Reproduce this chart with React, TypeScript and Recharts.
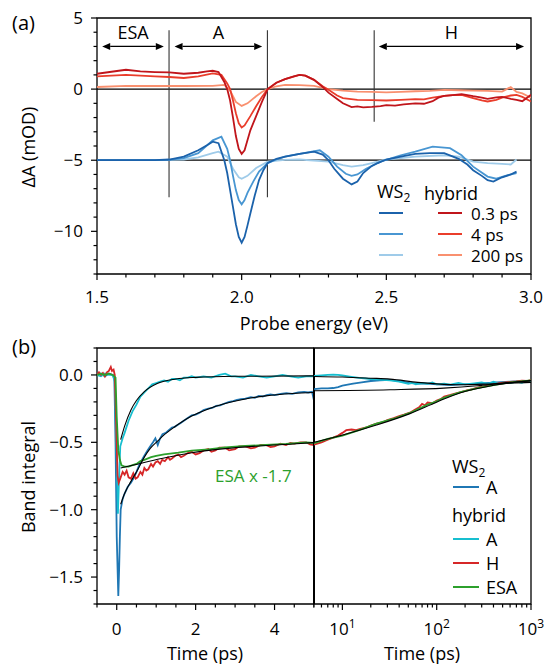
import React from "react";
import {
  LineChart,
  Line,
  XAxis,
  YAxis,
  ReferenceLine,
  ReferenceArea,
} from "recharts";

// ---------- panel (a): transient spectra, [probe energy (eV), dA (mOD)] ----------
const delays = ["0.3 ps", "4 ps", "200 ps"];

const hyb03 = [
  [1.5, 1.08], [1.55, 1.22], [1.6, 1.36], [1.65, 1.25], [1.7, 1.2], [1.75, 1.17], [1.8, 1.08],
  [1.85, 1.15], [1.88, 1.25], [1.9, 1.29], [1.92, 1.2], [1.94, 0.5], [1.95, 0.0], [1.96, -0.8],
  [1.97, -2.0], [1.98, -3.3], [1.99, -4.2], [2.0, -4.55], [2.01, -4.3], [2.02, -3.6], [2.03, -2.9],
  [2.05, -1.9], [2.07, -0.9], [2.09, 0.0], [2.12, 0.45], [2.15, 0.7], [2.18, 0.9], [2.2, 1.0],
  [2.22, 0.95], [2.25, 0.65], [2.28, 0.15], [2.3, -0.25], [2.33, -0.7], [2.35, -1.0], [2.38, -1.27],
  [2.4, -1.22], [2.42, -1.28], [2.45, -1.25], [2.48, -1.2], [2.5, -1.13], [2.53, -1.16], [2.56, -1.08],
  [2.6, -1.0], [2.63, -1.03], [2.66, -0.85], [2.68, -0.6], [2.7, -0.48], [2.73, -0.42], [2.76, -0.35],
  [2.78, -0.42], [2.8, -0.5], [2.83, -0.6], [2.85, -0.68], [2.88, -0.58], [2.9, -0.55], [2.93, -0.68],
  [2.95, -0.75], [2.97, -0.85], [3.0, -0.4],
];
const hyb4 = [
  [1.5, 0.9], [1.6, 1.0], [1.7, 0.9], [1.75, 0.85], [1.8, 0.78], [1.85, 0.9], [1.9, 1.1], [1.93, 1.0],
  [1.95, 0.4], [1.96, 0.0], [1.97, -0.8], [1.98, -1.7], [1.99, -2.4], [2.0, -2.7], [2.01, -2.55],
  [2.03, -1.9], [2.05, -1.2], [2.07, -0.55], [2.09, 0.0], [2.12, 0.45], [2.15, 0.7], [2.2, 1.0],
  [2.22, 0.95], [2.25, 0.65], [2.28, 0.2], [2.3, -0.05], [2.33, -0.45], [2.35, -0.63], [2.4, -0.75],
  [2.45, -0.78], [2.5, -0.8], [2.55, -0.76], [2.6, -0.7], [2.63, -0.72], [2.66, -0.6], [2.7, -0.48],
  [2.73, -0.42], [2.76, -0.4], [2.8, -0.63], [2.83, -0.8], [2.85, -0.87], [2.88, -0.75], [2.9, -0.6],
  [2.93, -0.45], [2.95, -0.4], [2.97, -0.55], [3.0, -0.87],
];
const hyb200 = [
  [1.5, 0.15], [1.6, 0.23], [1.7, 0.22], [1.8, 0.22], [1.9, 0.23], [1.94, 0.3], [1.96, -0.1],
  [1.97, -0.5], [1.98, -0.9], [2.0, -1.18], [2.02, -1.0], [2.05, -0.5], [2.07, -0.2], [2.09, 0.0],
  [2.12, 0.2], [2.15, 0.3], [2.2, 0.28], [2.25, 0.23], [2.3, 0.0], [2.35, -0.1], [2.4, -0.17],
  [2.45, -0.2], [2.5, -0.23], [2.55, -0.2], [2.6, -0.15], [2.65, -0.12], [2.7, -0.05], [2.75, -0.08],
  [2.8, -0.1], [2.85, -0.12], [2.9, -0.17], [2.93, 0.15], [2.95, -0.2], [2.97, -0.3], [3.0, -0.6],
];
const ws03 = [
  [1.5, -5.0], [1.6, -5.0], [1.7, -5.0], [1.75, -4.95], [1.8, -4.75], [1.85, -4.3], [1.88, -3.95],
  [1.9, -3.7], [1.92, -3.8], [1.94, -5.0], [1.95, -5.9], [1.96, -7.1], [1.97, -8.3], [1.98, -9.5],
  [1.99, -10.4], [2.0, -10.8], [2.01, -10.4], [2.02, -9.6], [2.03, -8.75], [2.045, -7.5],
  [2.06, -6.4], [2.075, -5.7], [2.09, -5.2], [2.12, -4.9], [2.15, -4.75], [2.2, -4.55],
  [2.25, -4.4], [2.28, -4.6], [2.3, -5.0], [2.32, -5.6], [2.35, -6.3], [2.38, -6.7], [2.4, -6.5],
  [2.42, -5.9], [2.45, -5.4], [2.47, -5.2], [2.5, -4.95], [2.55, -4.75], [2.6, -4.55], [2.65, -4.5],
  [2.7, -4.5], [2.75, -4.9], [2.78, -5.3], [2.8, -5.7], [2.83, -6.1], [2.85, -6.4], [2.87, -6.5],
  [2.9, -6.2], [2.93, -6.0], [2.95, -5.8],
];
const ws4 = [
  [1.5, -5.0], [1.6, -5.0], [1.7, -5.0], [1.75, -4.97], [1.8, -4.85], [1.85, -4.5], [1.9, -3.6],
  [1.93, -3.35], [1.95, -4.2], [1.96, -5.0], [1.97, -6.1], [1.98, -7.1], [1.99, -7.8], [2.0, -8.1],
  [2.01, -7.8], [2.02, -7.3], [2.04, -6.5], [2.06, -5.8], [2.09, -5.2], [2.12, -4.95],
  [2.15, -4.75], [2.2, -4.55], [2.27, -4.3], [2.3, -4.75], [2.33, -5.45], [2.36, -5.95],
  [2.38, -6.1], [2.4, -6.0], [2.43, -5.6], [2.48, -5.1], [2.55, -4.65], [2.6, -4.4], [2.66, -4.05],
  [2.72, -4.15], [2.76, -4.65], [2.8, -5.45], [2.85, -6.15], [2.88, -6.3], [2.92, -6.05],
  [2.95, -5.9],
];
const ws200 = [
  [1.5, -5.0], [1.7, -5.0], [1.8, -4.95], [1.85, -4.8], [1.9, -4.5], [1.92, -4.4], [1.95, -4.75],
  [1.97, -5.6], [1.99, -6.2], [2.0, -6.3], [2.02, -6.1], [2.05, -5.55], [2.09, -5.1], [2.15, -4.97],
  [2.2, -4.95], [2.3, -5.1], [2.35, -5.35], [2.38, -5.45], [2.42, -5.35], [2.45, -5.2], [2.5, -4.95],
  [2.6, -4.75], [2.7, -4.65], [2.75, -4.75], [2.8, -5.1], [2.85, -5.2], [2.9, -5.25], [2.93, -5.3],
  [2.95, -4.95],
];

// integration bands and their boundaries (eV), arrows at dA = 3 mOD
const bandNames = ["ESA", "A", "H"];
const bandStart = [1.518, 1.768, 2.474];
const bandEnd = [1.731, 2.071, 2.976];
const arrowLevel = 3.0;
const boundaryE = [1.749, 2.089, 2.458];
const boundaryTop = 4.13;
const boundaryBottom = [-7.6, -7.6, -2.3];
const baselines = [0, -5];

const eTicks = [1.5, 1.6, 1.7, 1.8, 1.9, 2.0, 2.1, 2.2, 2.3, 2.4, 2.5, 2.6, 2.7, 2.8, 2.9, 3.0];
const eMajor = [1.5, 2.0, 2.5, 3.0];
const dATicks = [-13, -12, -11, -10, -9, -8, -7, -6, -5, -4, -3, -2, -1, 0, 1, 2, 3, 4, 5];
const dAMajor = [-10, -5, 0, 5];

// ---------- panel (b): band integrals, [time (ps), value] ----------
const wsA_lin = [
  [-0.5, 0.0], [-0.4, 0.01], [-0.3, -0.01], [-0.2, 0.01], [-0.1, 0.0], [-0.06, -0.03],
  [-0.03, -0.5], [0.0, -1.2], [0.04, -1.64], [0.06, -1.45], [0.08, -1.2], [0.1, -1.0],
  [0.15, -0.92], [0.2, -0.88], [0.28, -0.83], [0.36, -0.8], [0.44, -0.76], [0.5, -0.72],
  [0.57, -0.67], [0.64, -0.63], [0.7, -0.6], [0.78, -0.56], [0.85, -0.53], [0.92, -0.5],
  [0.98, -0.47], [1.04, -0.52], [1.1, -0.47], [1.16, -0.44], [1.24, -0.43], [1.32, -0.41],
  [1.4, -0.39], [1.47, -0.385], [1.55, -0.37], [1.63, -0.355], [1.7, -0.34], [1.8, -0.32],
  [1.9, -0.3], [2.0, -0.295], [2.1, -0.28], [2.2, -0.26], [2.32, -0.25], [2.42, -0.245],
  [2.52, -0.23], [2.62, -0.225], [2.75, -0.21], [2.85, -0.2], [2.95, -0.195], [3.05, -0.185],
  [3.15, -0.18], [3.26, -0.175], [3.4, -0.165], [3.5, -0.17], [3.6, -0.155], [3.7, -0.16],
  [3.8, -0.15], [3.9, -0.145], [4.0, -0.15], [4.15, -0.14], [4.3, -0.135], [4.45, -0.14],
  [4.6, -0.13], [4.75, -0.125], [4.85, -0.13], [4.95, -0.125], [5.0, -0.19],
];
const hyA_lin = [
  [-0.5, 0.0], [-0.4, -0.01], [-0.3, 0.01], [-0.2, 0.0], [-0.1, 0.0], [-0.05, -0.05], [0.0, -0.6],
  [0.03, -1.03], [0.06, -0.75], [0.09, -0.53], [0.15, -0.47], [0.2, -0.43], [0.3, -0.34],
  [0.4, -0.27], [0.5, -0.22], [0.6, -0.16], [0.7, -0.13], [0.8, -0.1], [0.9, -0.07], [1.0, -0.06],
  [1.1, -0.05], [1.2, -0.04], [1.3, -0.05], [1.4, -0.03], [1.5, -0.03], [1.6, -0.04], [1.7, -0.02],
  [1.8, -0.02], [1.9, -0.01], [2.0, -0.02], [2.2, -0.01], [2.4, -0.02], [2.6, 0.0], [2.75, 0.01],
  [2.9, -0.01], [3.0, -0.01], [3.2, -0.02], [3.4, 0.0], [3.6, -0.01], [3.8, -0.02], [4.0, -0.01],
  [4.2, 0.0], [4.4, -0.01], [4.6, -0.02], [4.8, -0.01], [5.0, -0.01],
];
const hyH_lin = [
  [-0.5, 0.0], [-0.45, 0.02], [-0.4, 0.0], [-0.35, 0.015], [-0.3, -0.01], [-0.25, 0.02],
  [-0.2, 0.03], [-0.15, 0.06], [-0.12, 0.03], [-0.08, 0.04], [-0.05, 0.0], [-0.02, -0.3],
  [0.02, -0.75], [0.05, -0.8], [0.1, -0.76], [0.15, -0.72], [0.2, -0.74], [0.25, -0.71],
  [0.3, -0.76], [0.36, -0.77], [0.42, -0.73], [0.48, -0.77], [0.53, -0.76], [0.6, -0.72],
  [0.65, -0.74], [0.7, -0.69], [0.75, -0.71], [0.8, -0.7], [0.87, -0.66], [0.92, -0.68],
  [0.98, -0.65], [1.04, -0.64], [1.1, -0.66], [1.15, -0.63], [1.22, -0.64], [1.3, -0.61],
  [1.35, -0.63], [1.4, -0.62], [1.48, -0.6], [1.56, -0.59], [1.63, -0.61], [1.7, -0.6],
  [1.8, -0.58], [1.9, -0.57], [2.0, -0.59], [2.1, -0.58], [2.2, -0.56], [2.32, -0.55],
  [2.4, -0.57], [2.5, -0.56], [2.6, -0.54], [2.75, -0.54], [2.85, -0.56], [3.0, -0.55],
  [3.1, -0.53], [3.26, -0.53], [3.4, -0.545], [3.5, -0.54], [3.65, -0.52], [3.78, -0.52],
  [3.9, -0.535], [4.0, -0.53], [4.15, -0.51], [4.29, -0.52], [4.4, -0.505], [4.5, -0.51],
  [4.65, -0.5], [4.8, -0.5], [4.9, -0.515], [5.0, -0.52],
];
const hyE_lin = [
  [-0.5, 0.0], [-0.4, 0.01], [-0.3, 0.0], [-0.2, 0.01], [-0.1, 0.0], [-0.03, -0.02], [0.0, -0.31],
  [0.04, -0.56], [0.08, -0.63], [0.12, -0.67], [0.2, -0.68], [0.3, -0.68], [0.4, -0.67],
  [0.5, -0.66], [0.6, -0.64], [0.7, -0.63], [0.87, -0.61], [1.0, -0.6], [1.2, -0.59],
  [1.56, -0.577], [1.9, -0.562], [2.32, -0.552], [2.75, -0.537], [3.26, -0.527], [3.78, -0.52],
  [4.29, -0.512], [4.8, -0.5], [5.0, -0.505],
];
const fitWsA_lin = [
  [0.1, -0.96], [0.2, -0.88], [0.36, -0.79], [0.5, -0.72], [0.7, -0.61], [0.85, -0.545],
  [1.04, -0.49], [1.2, -0.445], [1.47, -0.385], [1.9, -0.305], [2.32, -0.252], [2.75, -0.212],
  [3.26, -0.178], [3.78, -0.155], [4.46, -0.138], [5.0, -0.13],
];
const fitHyA_lin = [
  [0.1, -0.48], [0.2, -0.38], [0.36, -0.26], [0.5, -0.19], [0.7, -0.124], [1.04, -0.062],
  [1.5, -0.03], [2.0, -0.018], [3.0, -0.01], [5.0, -0.007],
];
const fitEsa_lin = [
  [0.1, -0.69], [0.62, -0.656], [1.04, -0.626], [1.47, -0.601], [1.9, -0.577], [2.75, -0.547],
  [3.6, -0.527], [4.46, -0.512], [5.0, -0.502],
];

const wsA_log = [
  [5, -0.105], [6, -0.1], [7, -0.1], [8, -0.097], [9, -0.09], [10, -0.08], [13, -0.065],
  [16, -0.055], [20, -0.045], [25, -0.04], [32, -0.037], [40, -0.045], [52, -0.06], [65, -0.065],
  [80, -0.065], [100, -0.07], [140, -0.075], [180, -0.07], [230, -0.068], [300, -0.062],
  [435, -0.055], [600, -0.05], [800, -0.046], [1000, -0.045],
];
const hyA_log = [
  [5, -0.008], [6, -0.004], [7, 0.0], [8, 0.002], [9, 0.0], [10, -0.004], [12, -0.012],
  [15, -0.022], [20, -0.03], [25, -0.035], [32, -0.04], [40, -0.05], [50, -0.066], [55, -0.058],
  [60, -0.07], [70, -0.06], [80, -0.066], [90, -0.055], [100, -0.07], [120, -0.064], [140, -0.072],
  [170, -0.06], [200, -0.07], [250, -0.062], [300, -0.055], [350, -0.066], [400, -0.05],
  [450, -0.062], [500, -0.055], [600, -0.06], [700, -0.05], [800, -0.058], [900, -0.045],
  [1000, -0.052],
];
const hyH_log = [
  [5, -0.518], [6, -0.5], [7, -0.48], [8, -0.465], [9, -0.45], [10, -0.43], [11, -0.41],
  [12.5, -0.405], [14, -0.41], [15.5, -0.4], [18, -0.39], [20, -0.375], [23, -0.362], [27, -0.35],
  [30, -0.335], [35, -0.32], [40, -0.305], [45, -0.295], [52, -0.28], [58, -0.26], [65, -0.24],
  [70, -0.215], [75, -0.225], [80, -0.205], [90, -0.21], [100, -0.19], [110, -0.18], [120, -0.16],
  [140, -0.148], [160, -0.136], [180, -0.128], [210, -0.115], [240, -0.105], [270, -0.095],
  [300, -0.088], [350, -0.078], [400, -0.07], [450, -0.062], [500, -0.058], [600, -0.052],
  [700, -0.048], [800, -0.042], [900, -0.045], [1000, -0.038],
];
const hyE_log = [
  [5, -0.506], [7, -0.475], [10, -0.45], [15, -0.41], [23, -0.362], [35, -0.325], [52, -0.282],
  [79, -0.222], [100, -0.195], [119, -0.17], [179, -0.128], [270, -0.097], [400, -0.075],
  [600, -0.055], [1000, -0.04],
];
const fitWsA_log = [
  [5, -0.117], [32, -0.11], [119, -0.098], [270, -0.08], [500, -0.06], [1000, -0.043],
];
const fitHyA_log = [
  [5, -0.011], [10, -0.015], [20, -0.024], [32, -0.031], [63, -0.055], [100, -0.066],
  [179, -0.073], [400, -0.066], [1000, -0.055],
];
const fitEsa_log = [
  [5, -0.5], [10.3, -0.444], [23, -0.372], [52, -0.287], [101, -0.2], [179, -0.132],
  [400, -0.077], [1000, -0.042],
];

const bandTicks = [-1.7, -1.6, -1.5, -1.4, -1.3, -1.2, -1.1, -1.0, -0.9, -0.8, -0.7, -0.6, -0.5,
  -0.4, -0.3, -0.2, -0.1, 0.0, 0.1, 0.2];
const bandMajor = [-1.5, -1.0, -0.5, 0.0];
const linTicks = [-0.5, 0, 0.5, 1, 1.5, 2, 2.5, 3, 3.5, 4, 4.5, 5];
const linMajor = [0, 2, 4];
const logTicks = [5, 6, 7, 8, 9, 10, 20, 30, 40, 50, 60, 70, 80, 90, 100, 200, 300, 400, 500,
  600, 700, 800, 900, 1000];
const logMajor = [10, 100, 1000];

const pts = (a: number[][]) => a.map(([x, y]) => ({ x, y }));
const isIn = (arr: number[], v: number) => arr.some((m) => Math.abs(m - v) < 1e-6);
const minus = (s: string) => s.replace("-", "\u2212");

const makeXTick = (majors: number[], fmt: (v: number) => React.ReactNode, labelDy: number) =>
  (props: any) => {
    const { x, y, payload } = props;
    const major = isIn(majors, payload.value);
    return (
      <g>
        <line x1={x} x2={x} y1={y} y2={y + (major ? 6 : 3.5)} stroke="#000" strokeWidth={1.2} />
        {major ? (
          <text x={x} y={y + labelDy} textAnchor="middle" fontSize={17} fill="#000">
            {fmt(payload.value)}
          </text>
        ) : null}
      </g>
    );
  };

const makeYTick = (majors: number[], fmt: (v: number) => string) => (props: any) => {
  const { x, y, payload } = props;
  const major = isIn(majors, payload.value);
  return (
    <g>
      <line x1={x - (major ? 6 : 3.5)} x2={x} y1={y} y2={y} stroke="#000" strokeWidth={1.2} />
      {major ? (
        <text x={x - 14} y={y + 6} textAnchor="end" fontSize={17} fill="#000">
          {fmt(payload.value)}
        </text>
      ) : null}
    </g>
  );
};

const logLabel = (v: number) => (
  <>
    <tspan>10</tspan>
    <tspan dy={-7} fontSize={12}>{Math.round(Math.log10(v))}</tspan>
  </>
);

const renderArrow = (label: string) => (props: any) => {
  const { x1, y1, x2, y2 } = props;
  const h = 8;
  const w = 3.5;
  return (
    <g>
      <line x1={x1 + h} y1={y1} x2={x2 - h} y2={y2} stroke="#000" strokeWidth={1.3} />
      <polygon points={`${x1},${y1} ${x1 + h},${y1 - w} ${x1 + h},${y1 + w}`} fill="#000" />
      <polygon points={`${x2},${y2} ${x2 - h},${y2 - w} ${x2 - h},${y2 + w}`} fill="#000" />
      <text x={(x1 + x2) / 2} y={y1 - 7} textAnchor="middle" fontSize={18} fill="#000">
        {label}
      </text>
    </g>
  );
};

const redCols = ["#c0151b", "#ea3d2b", "#f9906f"];
const blueCols = ["#1b62ab", "#4896d2", "#9fcbe9"];
const C_BLUE = "#1f77b4";
const C_CYAN = "#17becf";
const C_RED = "#d62728";
const C_GREEN = "#2ca02c";

const txt = (left: number, top: number, content: React.ReactNode, extra: React.CSSProperties = {}) => (
  <div
    style={{
      position: "absolute",
      left,
      top,
      transform: "translateY(-50%)",
      fontSize: 18,
      lineHeight: 1,
      whiteSpace: "nowrap",
      ...extra,
    }}
  >
    {content}
  </div>
);
const seg = (left: number, top: number, width: number, color: string) => (
  <div style={{ position: "absolute", left, top: top - 1, width, height: 2, background: color }} />
);
const vlabel = (cx: number, cy: number, content: React.ReactNode) => (
  <div
    style={{
      position: "absolute",
      left: cx,
      top: cy,
      transform: "translate(-50%, -50%) rotate(-90deg)",
      fontSize: 18,
      lineHeight: 1,
      whiteSpace: "nowrap",
    }}
  >
    {content}
  </div>
);
const centered = (cx: number, cy: number, content: React.ReactNode) => (
  <div
    style={{
      position: "absolute",
      left: cx,
      top: cy,
      transform: "translate(-50%, -50%)",
      fontSize: 18,
      lineHeight: 1,
      whiteSpace: "nowrap",
    }}
  >
    {content}
  </div>
);

export default function App() {
  const specA = [ws200, ws4, ws03];
  const specH = [hyb200, hyb4, hyb03];
  return (
    <div
      style={{
        position: "absolute",
        left: 0,
        top: 0,
        width: 545,
        height: 665,
        background: "#fff",
        fontFamily: '"Open Sans", sans-serif',
        color: "#000",
        overflow: "hidden",
      }}
    >
      {/* panel (a) */}
      <div style={{ position: "absolute", left: 0, top: 0 }}>
        <LineChart width={545} height={340} margin={{ top: 18, right: 14, bottom: 36, left: 37 }}>
          <XAxis
            dataKey="x"
            type="number"
            domain={[1.5, 3.0]}
            allowDataOverflow
            ticks={eTicks}
            interval={0}
            tickSize={0}
            tickMargin={0}
            tickLine={false}
            axisLine={false}
            height={30}
            tick={makeXTick(eMajor, (v) => v.toFixed(1), 29)}
          />
          <YAxis
            dataKey="y"
            type="number"
            domain={[-13, 5]}
            allowDataOverflow
            ticks={dATicks}
            interval={0}
            tickSize={0}
            tickMargin={0}
            tickLine={false}
            axisLine={false}
            width={60}
            tick={makeYTick(dAMajor, (v) => minus(String(v)))}
          />
          <ReferenceArea x1={1.5} x2={3.0} y1={-13} y2={5} fill="none" stroke="#000" strokeWidth={1.3} />
          {baselines.map((b) => (
            <ReferenceLine key={`base-${b}`} y={b} stroke="#000" strokeWidth={1.2} />
          ))}
          {boundaryE.map((e, i) => (
            <ReferenceLine
              key={`bound-${i}`}
              segment={[{ x: e, y: boundaryTop }, { x: e, y: boundaryBottom[i] }]}
              stroke="#333"
              strokeWidth={1.1}
            />
          ))}
          {bandNames.map((n, i) => (
            <ReferenceLine
              key={`arrow-${n}`}
              segment={[{ x: bandStart[i], y: arrowLevel }, { x: bandEnd[i], y: arrowLevel }]}
              shape={renderArrow(n)}
            />
          ))}
          {specA.map((d, i) => (
            <Line
              key={`ws-${i}`}
              data={pts(d)}
              dataKey="y"
              type="linear"
              dot={false}
              stroke={blueCols[2 - i]}
              strokeWidth={1.8}
              isAnimationActive={false}
            />
          ))}
          {specH.map((d, i) => (
            <Line
              key={`hy-${i}`}
              data={pts(d)}
              dataKey="y"
              type="linear"
              dot={false}
              stroke={redCols[2 - i]}
              strokeWidth={1.8}
              isAnimationActive={false}
            />
          ))}
        </LineChart>
      </div>

      {/* panel (b), linear time part */}
      <div style={{ position: "absolute", left: 0, top: 330 }}>
        <LineChart width={314} height={340} margin={{ top: 18, right: 0, bottom: 36, left: 37 }}>
          <XAxis
            dataKey="x"
            type="number"
            domain={[-0.5, 5]}
            allowDataOverflow
            ticks={linTicks}
            interval={0}
            tickSize={0}
            tickMargin={0}
            tickLine={false}
            axisLine={false}
            height={30}
            tick={makeXTick(linMajor, (v) => String(v), 31)}
          />
          <YAxis
            dataKey="y"
            type="number"
            domain={[-1.7, 0.2]}
            allowDataOverflow
            ticks={bandTicks}
            interval={0}
            tickSize={0}
            tickMargin={0}
            tickLine={false}
            axisLine={false}
            width={60}
            tick={makeYTick(bandMajor, (v) => minus(v.toFixed(1)))}
          />
          <ReferenceArea x1={-0.5} x2={5} y1={-1.7} y2={0.2} fill="none" stroke="#000" strokeWidth={1.3} />
          <Line data={pts(wsA_lin)} dataKey="y" dot={false} stroke={C_BLUE} strokeWidth={1.8} isAnimationActive={false} />
          <Line data={pts(hyA_lin)} dataKey="y" dot={false} stroke={C_CYAN} strokeWidth={1.8} isAnimationActive={false} />
          <Line data={pts(hyH_lin)} dataKey="y" dot={false} stroke={C_RED} strokeWidth={1.8} isAnimationActive={false} />
          <Line data={pts(hyE_lin)} dataKey="y" dot={false} stroke={C_GREEN} strokeWidth={1.8} isAnimationActive={false} />
          <Line data={pts(fitWsA_lin)} dataKey="y" type="monotone" dot={false} stroke="#000" strokeWidth={1.1} isAnimationActive={false} />
          <Line data={pts(fitHyA_lin)} dataKey="y" type="monotone" dot={false} stroke="#000" strokeWidth={1.1} isAnimationActive={false} />
          <Line data={pts(fitEsa_lin)} dataKey="y" type="monotone" dot={false} stroke="#000" strokeWidth={1.1} isAnimationActive={false} />
        </LineChart>
      </div>

      {/* panel (b), log time part */}
      <div style={{ position: "absolute", left: 304, top: 330 }}>
        <LineChart width={241} height={340} margin={{ top: 18, right: 14, bottom: 36, left: 10 }}>
          <XAxis
            dataKey="x"
            type="number"
            scale="log"
            domain={[5, 1000]}
            allowDataOverflow
            ticks={logTicks}
            interval={0}
            tickSize={0}
            tickMargin={0}
            tickLine={false}
            axisLine={false}
            height={30}
            tick={makeXTick(logMajor, logLabel, 31)}
          />
          <YAxis dataKey="y" type="number" domain={[-1.7, 0.2]} allowDataOverflow hide width={0} />
          <ReferenceArea x1={5} x2={1000} y1={-1.7} y2={0.2} fill="none" stroke="#000" strokeWidth={1.3} />
          <ReferenceLine x={5} stroke="#000" strokeWidth={2} />
          <Line data={pts(wsA_log)} dataKey="y" dot={false} stroke={C_BLUE} strokeWidth={1.8} isAnimationActive={false} />
          <Line data={pts(hyA_log)} dataKey="y" dot={false} stroke={C_CYAN} strokeWidth={1.8} isAnimationActive={false} />
          <Line data={pts(hyH_log)} dataKey="y" dot={false} stroke={C_RED} strokeWidth={1.8} isAnimationActive={false} />
          <Line data={pts(hyE_log)} dataKey="y" dot={false} stroke={C_GREEN} strokeWidth={1.8} isAnimationActive={false} />
          <Line data={pts(fitWsA_log)} dataKey="y" type="monotone" dot={false} stroke="#000" strokeWidth={1.1} isAnimationActive={false} />
          <Line data={pts(fitHyA_log)} dataKey="y" type="monotone" dot={false} stroke="#000" strokeWidth={1.1} isAnimationActive={false} />
          <Line data={pts(fitEsa_log)} dataKey="y" type="monotone" dot={false} stroke="#000" strokeWidth={1.1} isAnimationActive={false} />
        </LineChart>
      </div>

      {/* labels */}
      {txt(12, 23, "(a)", { fontSize: 20 })}
      {txt(12, 347, "(b)", { fontSize: 20 })}
      {vlabel(28, 147, "ΔA (mOD)")}
      {vlabel(28, 477, "Band integral")}
      {centered(314, 323, "Probe energy (eV)")}
      {centered(205, 653, "Time (ps)")}
      {centered(422, 653, "Time (ps)")}

      {/* legend (a) */}
      {txt(377, 193, <>WS<sub style={{ fontSize: 12 }}>2</sub></>)}
      {txt(424, 193, "hybrid")}
      {delays.map((d, i) => (
        <React.Fragment key={`leg-a-${d}`}>
          {seg(379, 213 + i * 21, 24, blueCols[i])}
          {seg(438, 213 + i * 21, 24, redCols[i])}
          {txt(471, 213 + i * 21, d, { fontSize: 17 })}
        </React.Fragment>
      ))}

      {/* legend (b) */}
      {txt(452, 468, <>WS<sub style={{ fontSize: 12 }}>2</sub></>)}
      {seg(453, 487, 26, C_BLUE)}
      {txt(486, 487, "A")}
      {txt(452, 515, "hybrid")}
      {seg(453, 539, 26, C_CYAN)}
      {txt(486, 539, "A")}
      {seg(453, 563, 26, C_RED)}
      {txt(486, 563, "H")}
      {seg(453, 587, 26, C_GREEN)}
      {txt(486, 587, "ESA")}

      {txt(215, 475, "ESA x -1.7", { color: C_GREEN, fontSize: 17 })}
    </div>
  );
}
